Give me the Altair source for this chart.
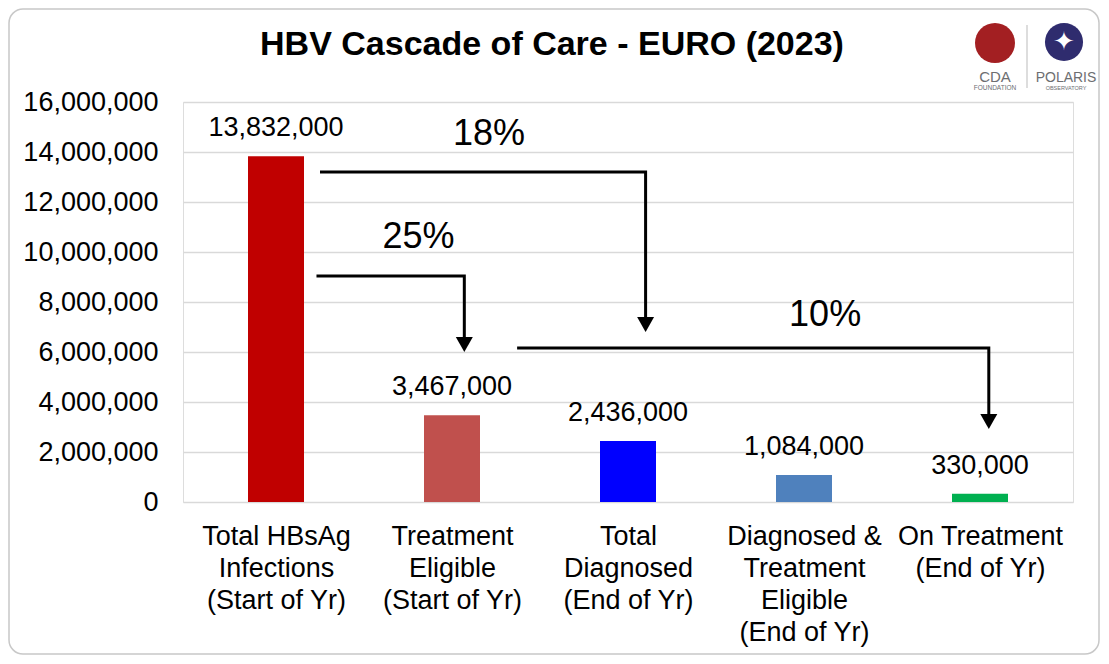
import json
import altair as alt
import pandas as pd

# ---- data ----
categories = [
    ["Total HBsAg", "Infections", "(Start of Yr)"],
    ["Treatment", "Eligible", "(Start of Yr)"],
    ["Total", "Diagnosed", "(End of Yr)"],
    ["Diagnosed &", "Treatment", "Eligible", "(End of Yr)"],
    ["On Treatment", "(End of Yr)"],
]
values = [13832000, 3467000, 2436000, 1084000, 330000]
bar_colors = ["#C00000", "#C0504D", "#0000FF", "#4F81BD", "#00B050"]

# cascade arrows (x in category positions, y in people)
arrow_labels = ["18%", "25%", "10%"]
arrow_x_start = [0.25, 0.23, 1.37]
arrow_x_end = [2.10, 1.07, 4.05]
arrow_y_level = [13200000, 9040000, 6160000]
arrow_shaft_end = [7300000, 6500000, 3420000]
arrow_y_tip = [6800000, 6000000, 2920000]
pct_x = [1.21, 0.81, 3.12]
pct_y = [14280000, 10160000, 7040000]

y_ticks = list(range(0, 16000001, 2000000))

FONT = "Liberation Sans, Arial, sans-serif"

bars_df = pd.DataFrame({
    "pos": list(range(len(values))),
    "value": values,
    "color": bar_colors,
    "label": [f"{v:,}" for v in values],
})

line_rows = []
for i in range(len(arrow_labels)):
    pts = [(arrow_x_start[i], arrow_y_level[i]),
           (arrow_x_end[i], arrow_y_level[i]),
           (arrow_x_end[i], arrow_shaft_end[i])]
    for k, (px, py) in enumerate(pts):
        line_rows.append({"arrow": i, "order": k, "x": px, "y": py})
lines_df = pd.DataFrame(line_rows)
heads_df = pd.DataFrame({"x": arrow_x_end, "y": arrow_y_tip})
pct_df = pd.DataFrame({"x": pct_x, "y": pct_y, "label": arrow_labels})

x_scale = alt.Scale(domain=[-0.5, len(values) - 0.5], nice=False, zero=False)
y_scale = alt.Scale(domain=[0, 16000000], nice=False)

label_expr = json.dumps(categories) + "[datum.value]"

x_axis = alt.Axis(
    values=list(range(len(values))), labelExpr=label_expr, title=None,
    domain=False, ticks=False, grid=False,
    labelFont=FONT, labelFontSize=27, labelColor="#000000",
    labelLineHeight=32, labelPadding=21, labelAngle=0,
)
y_axis = alt.Axis(
    values=y_ticks, format=",d", title=None, domain=False, ticks=False,
    grid=True, gridColor="#D9D9D9", gridWidth=1.5,
    labelFont=FONT, labelFontSize=27, labelColor="#000000", labelPadding=25,
)

base_x = alt.X("pos:Q", scale=x_scale, axis=x_axis)

bars = alt.Chart(bars_df).mark_bar(size=56).encode(
    x=base_x,
    y=alt.Y("value:Q", scale=y_scale, axis=y_axis),
    color=alt.Color("color:N", scale=None),
)
bar_text = alt.Chart(bars_df).mark_text(
    dy=-20, baseline="alphabetic", font=FONT, fontSize=27, color="#000000"
).encode(x=alt.X("pos:Q", scale=x_scale), y=alt.Y("value:Q", scale=y_scale), text="label:N")

arrow_lines = alt.Chart(lines_df).mark_line(
    color="#000000", strokeWidth=3, strokeCap="butt", strokeJoin="miter"
).encode(
    x=alt.X("x:Q", scale=x_scale), y=alt.Y("y:Q", scale=y_scale),
    detail="arrow:N", order="order:Q",
)
arrow_heads = alt.Chart(heads_df).mark_point(
    shape="M-1,-1.76L1,-1.76L0,0Z", size=289, filled=True, color="#000000",
    opacity=1, strokeWidth=0,
).encode(x=alt.X("x:Q", scale=x_scale), y=alt.Y("y:Q", scale=y_scale))
pct_text = alt.Chart(pct_df).mark_text(
    baseline="alphabetic", font=FONT, fontSize=36, color="#000000"
).encode(x=alt.X("x:Q", scale=x_scale), y=alt.Y("y:Q", scale=y_scale), text="label:N")

# ---- decoration: outer rounded frame and logos ----
one = pd.DataFrame({"k": [0]})
frame = alt.Chart(one).mark_rect(
    fill=None, stroke="#C8C8C8", strokeWidth=1.5, cornerRadius=14
).encode(x=alt.value(-174), x2=alt.value(916), y=alt.value(-93), y2=alt.value(552))

logo_red = alt.Chart(one).mark_point(
    shape="circle", size=1600, filled=True, color="#A31F22", opacity=1
).encode(x=alt.value(812), y=alt.value(-59))
logo_blue = alt.Chart(one).mark_point(
    shape="circle", size=1450, filled=True, color="#2F2C6E", opacity=1
).encode(x=alt.value(881), y=alt.value(-60))
logo_star = alt.Chart(one).mark_text(
    text="✦", fontSize=26, color="#FFFFFF", baseline="middle"
).encode(x=alt.value(881), y=alt.value(-60))
logo_div = alt.Chart(one).mark_rule(color="#BBBBBB", strokeWidth=1).encode(
    x=alt.value(844), y=alt.value(-77), y2=alt.value(-14))
logo_t1 = alt.Chart(one).mark_text(
    text="CDA", font=FONT, fontSize=15, color="#6D6E71", baseline="alphabetic"
).encode(x=alt.value(812), y=alt.value(-20))
logo_t2 = alt.Chart(one).mark_text(
    text="FOUNDATION", font=FONT, fontSize=6.5, color="#6D6E71", baseline="alphabetic"
).encode(x=alt.value(812), y=alt.value(-12))
logo_t3 = alt.Chart(one).mark_text(
    text="POLARIS", font=FONT, fontSize=14, color="#6D6E71", baseline="alphabetic"
).encode(x=alt.value(883), y=alt.value(-20))
logo_t4 = alt.Chart(one).mark_text(
    text="OBSERVATORY", font=FONT, fontSize=5.5, color="#6D6E71", baseline="alphabetic"
).encode(x=alt.value(883), y=alt.value(-12))

chart = alt.layer(
    frame, bars, bar_text, arrow_lines, arrow_heads, pct_text,
    logo_red, logo_blue, logo_star, logo_div, logo_t1, logo_t2, logo_t3, logo_t4,
).properties(
    width=890, height=400,
    title=alt.TitleParams(
        text="HBV Cascade of Care - EURO (2023)",
        font="Liberation Sans, Arial, sans-serif",
        fontSize=34, fontWeight="bold", color="#000000",
        anchor="middle", baseline="alphabetic", offset=0, dy=81, dx=-76,
    ),
    autosize=alt.AutoSizeParams(type="none"),
    padding={"left": 175, "top": 94, "right": 28, "bottom": 154},
).configure_view(stroke=None).configure(background="#FFFFFF")

chart.save("out.html", embed_options={"renderer": "svg", "actions": False})
